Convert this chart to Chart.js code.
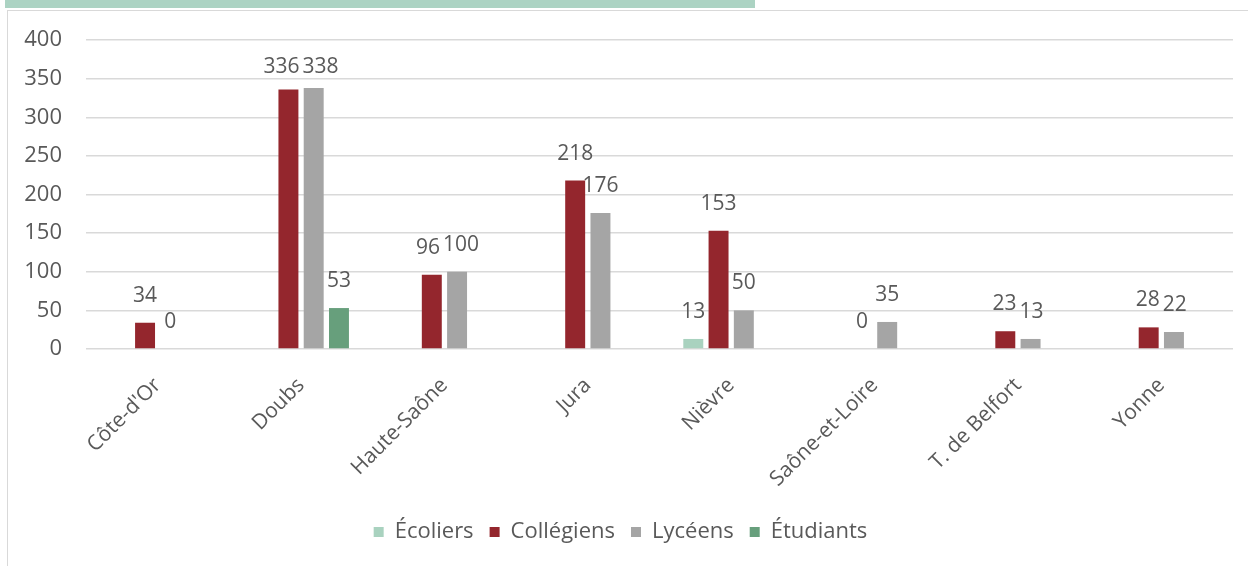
<!DOCTYPE html>
<html>
<head>
<meta charset="utf-8">
<script src="https://cdn.jsdelivr.net/npm/chart.js@4"></script>
<style>
	body { margin: 0; background: #fff; width: 1248px; height: 566px; overflow: hidden; position: relative; }
	#band { position: absolute; left: 5px; top: 0; width: 750px; height: 8px; background: #acd3c3; }
	#frame { position: absolute; left: 7px; top: 10px; width: 1250px; height: 570px; border: 1px solid #d9d9d9; }
	#wrap { position: absolute; left: 8px; top: 11px; width: 1240px; height: 555px; }
</style>
</head>
<body>
<div id="band"></div>
<div id="frame"></div>
<div id="wrap"><canvas id="chart"></canvas></div>
<script>
const departements = ['Côte-d\'Or', 'Doubs', 'Haute-Saône', 'Jura', 'Nièvre', 'Saône-et-Loire', 'T. de Belfort', 'Yonne']
const ecoliers = [null, null, null, null, 13, null, null, null]
const collegiens = [34, 336, 96, 218, 153, 0, 23, 28]
const lyceens = [0, 338, 100, 176, 50, 35, 13, 22]
const etudiants = [null, 53, null, null, null, null, null, null]

const fontFamily = '"Open Sans", "Noto Sans", sans-serif'
const textColor = '#595959'

// labels au-dessus des barres, écartés s'ils se touchent (comme Excel)
const barLabels = {
	id: 'barLabels',
	afterDatasetsDraw: (chart) => {
		const ctx = chart.ctx
		ctx.save()
		ctx.font = '21px ' + fontFamily
		ctx.fillStyle = textColor
		ctx.textAlign = 'center'
		ctx.textBaseline = 'middle'
		departements.forEach((d, j) => {
			let items = []
			chart.data.datasets.forEach((ds, i) => {
				const v = ds.data[j]
				if (v === null) return
				const bar = chart.getDatasetMeta(i).data[j]
				const y = Math.max(bar.y - 27, chart.chartArea.top + 27)
				items.push({ text: String(v), x: bar.x, y: y, w: ctx.measureText(String(v)).width })
			})
			items.sort((a, b) => a.x - b.x)
			for (let k = 1; k < items.length; k++) {
				const a = items[k - 1]
				const b = items[k]
				const overlap = (a.x + a.w / 2 + 3) - (b.x - b.w / 2)
				if (overlap > 0 && Math.abs(a.y - b.y) < 22) {
					a.x -= overlap / 2
					b.x += overlap / 2
				}
			}
			items.forEach((it) => ctx.fillText(it.text, it.x, it.y))
		})
		ctx.restore()
	}
}

const config = {
	type: 'bar',
	data: {
		labels: departements,
		datasets: [
			{ label: 'Écoliers', data: ecoliers, backgroundColor: '#a9d2bf' },
			{ label: 'Collégiens', data: collegiens, backgroundColor: '#94262d' },
			{ label: 'Lycéens', data: lyceens, backgroundColor: '#a5a5a5' },
			{ label: 'Étudiants', data: etudiants, backgroundColor: '#679f7c' }
		]
	},
	options: {
		responsive: true,
		maintainAspectRatio: false,
		animation: false,
		datasets: { bar: { categoryPercentage: 0.705, barPercentage: 0.79 } },
		layout: { padding: { top: 29, right: 15, bottom: 13, left: 0 } },
		scales: {
			x: {
				grid: { display: false },
				border: { display: false },
				ticks: {
					color: textColor,
					font: { family: fontFamily, size: 21 },
					minRotation: 45,
					maxRotation: 45,
					padding: 16
				},
				afterFit: (scale) => { scale.height = 156 }
			},
			y: {
				min: 0,
				max: 400,
				ticks: {
					stepSize: 50,
					color: textColor,
					font: { family: fontFamily, size: 22 },
					padding: 24
				},
				grid: { color: '#d9d9d9', lineWidth: 1.5, drawTicks: false },
				border: { display: false },
				afterFit: (scale) => {
					scale.width = 78
					scale.paddingTop = 0
					scale.paddingBottom = 0
				}
			}
		},
		plugins: {
			legend: {
				position: 'bottom',
				labels: {
					color: textColor,
					font: { family: fontFamily, size: 22 },
					boxWidth: 10,
					boxHeight: 10,
					padding: 16
				}
			},
			tooltip: { enabled: false }
		}
	},
	plugins: [barLabels]
}

const ctx = document.querySelector('#chart').getContext('2d')
const chart = new Chart(ctx, config)
</script>
</body>
</html>
